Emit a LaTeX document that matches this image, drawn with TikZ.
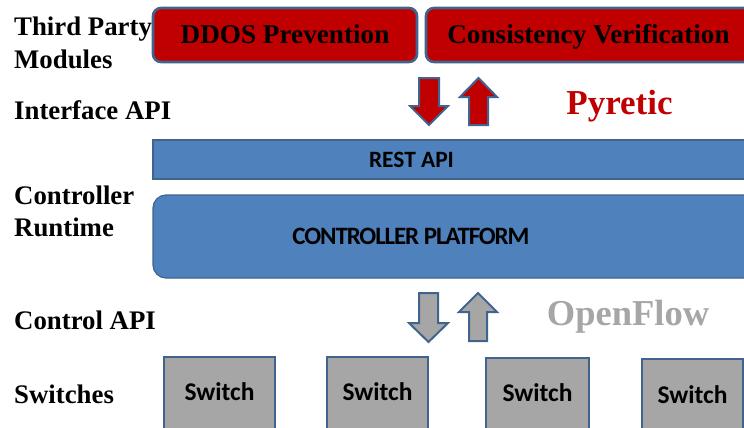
\documentclass[tikz,border=0pt]{standalone}
\usepackage{fontspec}
\setmainfont{Liberation Serif}
\newfontfamily\calfont{Carlito}
\newfontfamily\calfonttight[LetterSpace=-4.5]{Carlito}
\definecolor{redfill}{HTML}{C00000}
\definecolor{edgeblue}{HTML}{41648F}
\definecolor{bluefill}{HTML}{4F81BD}
\definecolor{grayfill}{HTML}{A6A6A6}
\tikzset{
  lbl/.style={anchor=base west, inner sep=0pt, font=\fontsize{26.8}{26.8}\selectfont\bfseries},
  modbox/.style={draw=edgeblue, line width=2.6pt, fill=redfill, rounded corners=8pt},
  modtxt/.style={inner sep=0pt, anchor=base, font=\fontsize{27.2}{27.2}\selectfont\bfseries},
  layerbox/.style={draw=edgeblue, line width=1.2pt, fill=bluefill},
  sanstxt/.style={inner sep=0pt, font=\calfont\fontsize{23.4}{23.4}\selectfont\bfseries},
  bigsanstxt/.style={inner sep=0pt, font=\calfonttight\fontsize{25}{25}\selectfont\bfseries},
  swtxt/.style={inner sep=0pt, font=\calfont\fontsize{25.5}{25.5}\selectfont\bfseries},
  swbox/.style={draw=edgeblue, line width=2.4pt, fill=grayfill},
  redarrow/.style={draw=edgeblue, line width=2pt, fill=redfill, line join=miter},
  grayarrow/.style={draw=edgeblue, line width=2pt, fill=grayfill, line join=miter},
}
\begin{document}
\begin{tikzpicture}[x=1pt,y=-1pt]
\useasboundingbox (0,0) rectangle (744,428);
\clip (0,0) rectangle (744,428);
% left labels
\node[lbl] (l1) at (14,36) {Third Party};
\node[lbl] (l2) at (14,68) {Modules};
\node[lbl] (l3) at (14,119) {Interface API};
\node[lbl] (l4) at (14,204) {Controller};
\node[lbl] (l5) at (14,236) {Runtime};
\node[lbl] (l6) at (14,329) {Control API};
\node[lbl] (l7) at (14,403) {Switches};
% third party modules
\draw[modbox] (153,8) rectangle (417,62);
\node[modtxt] (ddos) at (285,44) {DDOS Prevention};
\draw[modbox] (426,8) rectangle (752,62);
\node[modtxt] (cons) at (588.5,44) {Consistency Verification};
% interface arrows
\draw[redarrow] (419,78) -- (439,78) -- (439,106) -- (448,106) -- (429,125) -- (410,106) -- (419,106) -- cycle;
\draw[redarrow] (469,125) -- (488,125) -- (488,97) -- (497,97) -- (478.5,78) -- (460,97) -- (469,97) -- cycle;
\node[anchor=base, inner sep=0pt, text=redfill, font=\fontsize{35}{35}\selectfont\bfseries] (pyretic) at (619.5,114) {Pyretic};
% REST API and controller
\draw[layerbox] (153,140) rectangle (760,179);
\node[sanstxt] (rest) at (411.5,159.5) {REST API};
\draw[layerbox, rounded corners=13pt] (153,195) rectangle (770,278);
\node[bigsanstxt] (ctrl) at (411,236) {CONTROLLER PLATFORM};
% control arrows
\draw[grayarrow] (419,293) -- (438,293) -- (438,323) -- (448,323) -- (428.5,342) -- (409,323) -- (419,323) -- cycle;
\draw[grayarrow] (469,341) -- (487,341) -- (487,312) -- (497,312) -- (478,293) -- (459,312) -- (469,312) -- cycle;
\node[anchor=base, inner sep=0pt, text=grayfill, font=\fontsize{36.5}{36.5}\selectfont\bfseries] (of) at (628,325) {OpenFlow};
% switches
\draw[swbox] (164,357) rectangle (275,440);
\node[swtxt] (s1) at (219.5,392) {Switch};
\draw[swbox] (327,357) rectangle (428,440);
\node[swtxt] (s2) at (377.5,392) {Switch};
\draw[swbox] (486,358) rectangle (589,440);
\node[swtxt] (s3) at (537.5,393) {Switch};
\draw[swbox] (642,359) rectangle (743,440);
\node[swtxt] (s4) at (692.5,395) {Switch};
\end{tikzpicture}
\end{document}
